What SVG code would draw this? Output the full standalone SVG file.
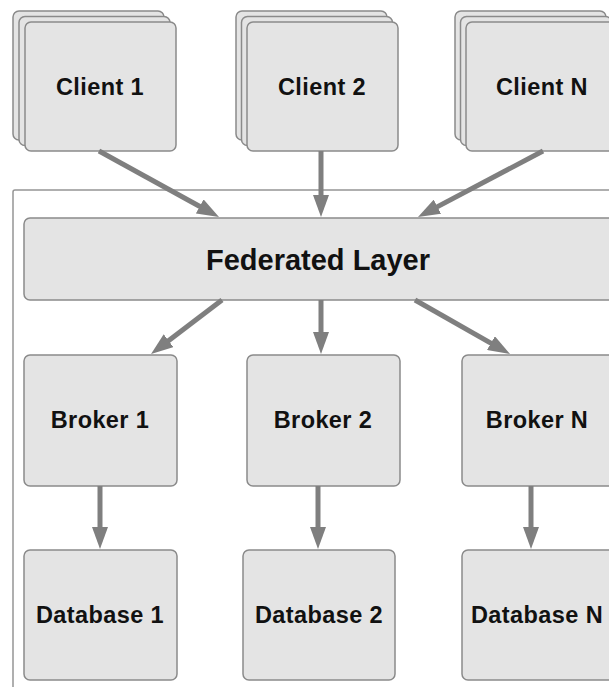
<svg xmlns="http://www.w3.org/2000/svg" width="609" height="687" viewBox="0 0 609 687">
  <style>
    .box { fill: #e4e4e4; stroke: #8a8a8a; stroke-width: 1.5; }
    .frame { fill: none; stroke: #959595; stroke-width: 1.5; }
    .label { font-family: "Liberation Sans", Arial, Helvetica, sans-serif; font-weight: bold; font-size: 23.5px; letter-spacing: 0.4px; fill: #111; text-anchor: middle; }
    .big { font-size: 29px; letter-spacing: 0; }
    .edge { stroke: #7f7f7f; stroke-width: 5; fill: none; marker-end: url(#head); }
  </style>
  <defs>
    <marker id="head" markerUnits="userSpaceOnUse" markerWidth="22" markerHeight="16" refX="10" refY="8" orient="auto">
      <path d="M0,0 L22,8 L0,16 z" fill="#7f7f7f"/>
    </marker>
  </defs>
  <rect width="609" height="687" fill="#ffffff"/>

  <!-- enclosing server-side frame -->
  <rect class="frame" x="13" y="190" width="620" height="520" rx="2"/>

  <!-- client stacks -->
  <g id="client1">
    <rect class="box" x="13" y="11" width="151" height="129" rx="6"/>
    <rect class="box" x="19" y="16.5" width="151" height="129" rx="6"/>
    <rect class="box" x="25" y="22" width="151" height="129" rx="6"/>
    <text class="label" x="100" y="95">Client 1</text>
  </g>
  <g id="client2">
    <rect class="box" x="236" y="11" width="151" height="129" rx="6"/>
    <rect class="box" x="241.5" y="16.5" width="151" height="129" rx="6"/>
    <rect class="box" x="247" y="22" width="151" height="129" rx="6"/>
    <text class="label" x="322" y="95">Client 2</text>
  </g>
  <g id="clientN">
    <rect class="box" x="455" y="11" width="151" height="129" rx="6"/>
    <rect class="box" x="460.5" y="16.5" width="151" height="129" rx="6"/>
    <rect class="box" x="466" y="22" width="151" height="129" rx="6"/>
    <text class="label" x="542" y="95">Client N</text>
  </g>

  <!-- federated layer -->
  <g id="federated">
    <rect class="box" x="24" y="218" width="590" height="82" rx="6"/>
    <text class="label big" x="318" y="270">Federated Layer</text>
  </g>

  <!-- brokers -->
  <g id="broker1">
    <rect class="box" x="24" y="355" width="153" height="131" rx="6"/>
    <text class="label" x="100" y="428">Broker 1</text>
  </g>
  <g id="broker2">
    <rect class="box" x="247" y="355" width="153" height="131" rx="6"/>
    <text class="label" x="323" y="428">Broker 2</text>
  </g>
  <g id="brokerN">
    <rect class="box" x="462" y="355" width="153" height="131" rx="6"/>
    <text class="label" x="537" y="428">Broker N</text>
  </g>

  <!-- databases -->
  <g id="database1">
    <rect class="box" x="24" y="550" width="153" height="130" rx="6"/>
    <text class="label" x="100" y="623">Database 1</text>
  </g>
  <g id="database2">
    <rect class="box" x="243" y="550" width="152" height="130" rx="6"/>
    <text class="label" x="319" y="623">Database 2</text>
  </g>
  <g id="databaseN">
    <rect class="box" x="462" y="550" width="153" height="130" rx="6"/>
    <text class="label" x="537" y="623">Database N</text>
  </g>

  <!-- connectors -->
  <g id="connectors">
    <line class="edge" x1="99" y1="151" x2="208.5" y2="211.2"/>
    <line class="edge" x1="321" y1="151" x2="321" y2="205"/>
    <line class="edge" x1="543" y1="151" x2="428.6" y2="211.4"/>
    <line class="edge" x1="222" y1="300" x2="160.6" y2="346.7"/>
    <line class="edge" x1="321" y1="300" x2="321" y2="342"/>
    <line class="edge" x1="415" y1="300" x2="499.6" y2="348.1"/>
    <line class="edge" x1="100" y1="486" x2="100" y2="537"/>
    <line class="edge" x1="318" y1="486" x2="318" y2="537"/>
    <line class="edge" x1="531" y1="486" x2="531" y2="537"/>
  </g>
</svg>
